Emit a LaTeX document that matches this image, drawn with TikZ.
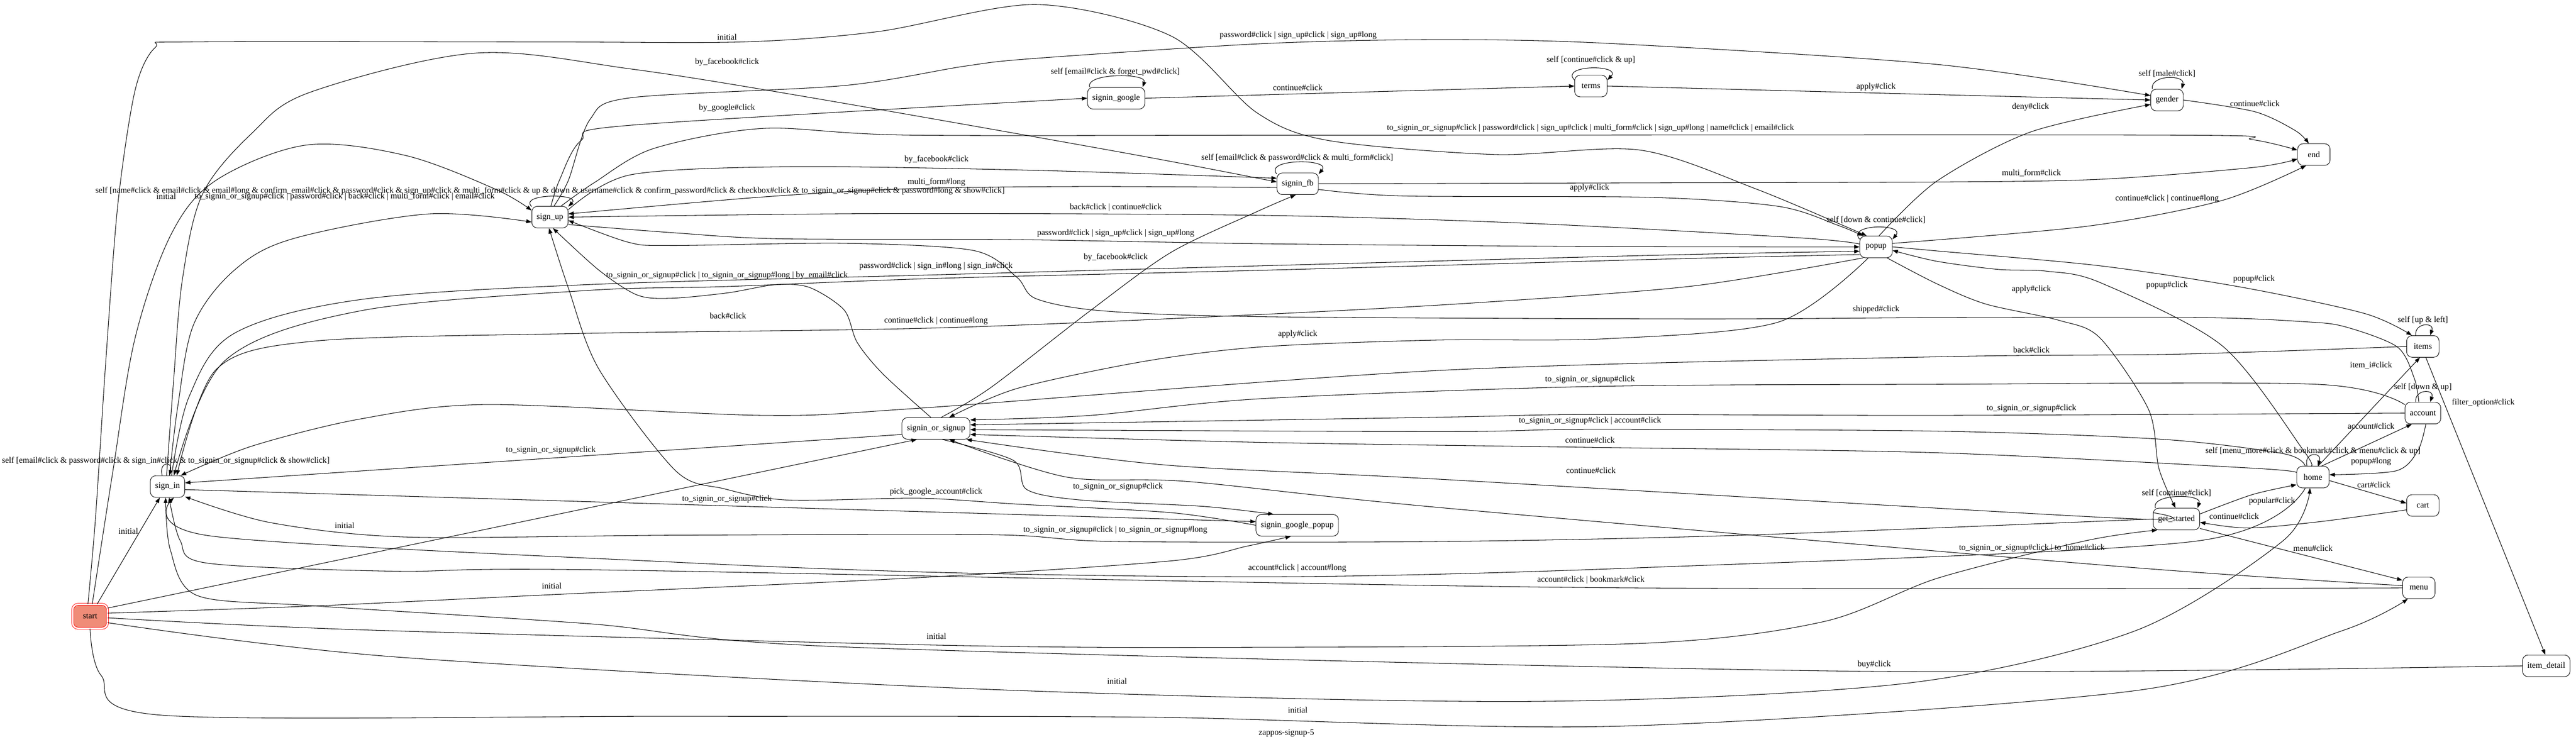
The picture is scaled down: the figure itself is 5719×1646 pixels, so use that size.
\documentclass[tikz,border=0pt]{standalone}
\usepackage{fontspec}
\setmainfont{Liberation Serif}
\usetikzlibrary{arrows.meta}
\definecolor{salmonfill}{HTML}{F08C78}

\begin{document}
\begin{tikzpicture}[x=0.75pt,y=-0.75pt,
	state/.style={draw, line width=0.8pt, rounded corners=9pt, minimum width=54pt, minimum height=36pt, inner xsep=8pt, font=\fontsize{14pt}{16pt}\selectfont},
	trans/.style={-{Triangle[length=9pt,width=6.5pt]}, line width=0.9pt},
	lab/.style={inner sep=0pt, font=\fontsize{14pt}{16pt}\selectfont}]
	\useasboundingbox (0,0) rectangle (5719,1646);

	\node[state, fill=salmonfill, draw=red, double=white, double distance=2.5pt, minimum width=58pt, minimum height=40pt] (start) at (200,1368) {start};
	\node[state] (sign_in) at (372,1080) {sign\_in};
	\node[state] (sign_up) at (1221,482) {sign\_up};
	\node[state] (signin_or_signup) at (2078,951) {signin\_or\_signup};
	\node[state] (signin_google) at (2478,218) {signin\_google};
	\node[state] (signin_google_popup) at (2880,1166) {signin\_google\_popup};
	\node[state] (signin_fb) at (2881,408) {signin\_fb};
	\node[state] (terms) at (3532,191) {terms};
	\node[state] (popup) at (4165,548) {popup};
	\node[state] (gender) at (4811,222) {gender};
	\node[state] (end_state) at (5137,343) {end};
	\node[state] (items) at (5379,769) {items};
	\node[state] (account) at (5379,917) {account};
	\node[state] (home) at (5135,1059) {home};
	\node[state] (cart) at (5379,1122) {cart};
	\node[state] (get_started) at (4832,1152) {get\_started};
	\node[state] (menu) at (5370,1305) {menu};
	\node[state] (item_detail) at (5653,1478) {item\_detail};

	% edges leaving start
	\draw[trans] plot[smooth,tension=.5] coordinates {(start.100) (212,1150) (235,800) (262,450) (300,200) (345,105) (420,93) (1200,93) (1650,93) (1950,70) (2300,10) (2600,80) (2790,250) (2950,312) (3320,343) (3640,333) (3900,420) (popup.130)};
	\draw[trans] plot[smooth,tension=.55] coordinates {(start.80) (250,1050) (300,750) (380,520) (480,400) (680,322) (900,345) (1100,420) (sign_up.160)};
	\draw[trans] (start.60) -- (sign_in.235);
	\draw[trans] (start.25) -- (signin_or_signup.210);
	\draw[trans] plot[smooth,tension=.5] coordinates {(start.10) (700,1345) (1225,1320) (2044,1282) (2600,1245) (2770,1212) (signin_google_popup.240)};
	\draw[trans] plot[smooth,tension=.5] coordinates {(start.-5) (800,1398) (2079,1432) (2717,1437) (3647,1428) (4048,1380) (4303,1283) (4632,1200) (get_started.210)};
	\draw[trans] plot[smooth,tension=.5] coordinates {(start.-20) (875,1458) (2188,1530) (3392,1557) (4230,1517) (4741,1400) (5069,1200) (home.255)};
	\draw[trans] plot[smooth,tension=.5] coordinates {(start.-90) (225,1500) (365,1588) (1500,1590) (2553,1592) (3592,1612) (4741,1533) (5200,1400) (menu.225)};

	% sign_in
	\draw[trans] ([xshift=-9pt]sign_in.north) .. controls +(-6pt,24pt) and +(6pt,24pt) .. ([xshift=3pt]sign_in.north);
	\draw[trans] plot[smooth,tension=.55] coordinates {(sign_in.80) (395,900) (430,720) (520,600) (650,530) (950,475) (sign_up.195)};
	\draw[trans] plot[smooth,tension=.55] coordinates {(sign_in.95) (385,850) (405,620) (450,430) (560,295) (688,205) (1054,118) (1400,153) (1802,217) (2500,340) (signin_fb.175)};
	\draw[trans] (sign_in.-10) -- (signin_google_popup.175);
	\draw[trans] (signin_or_signup.190) -- (sign_in.12);
	\draw[trans] plot[smooth,tension=.55] coordinates {(sign_in.70) (420,880) (520,740) (800,665) (1300,632) (2078,610) (2800,590) (3700,566) (popup.195)};
	\draw[trans] plot[smooth,tension=.55] coordinates {(popup.205) (3700,575) (2800,600) (2078,618) (1614,636) (1300,645) (800,690) (500,800) (sign_in.60)};
	\draw[trans] plot[smooth,tension=.5] coordinates {(popup.220) (3757,635) (3278,672) (2800,698) (2078,728) (1300,740) (700,757) (480,820) (sign_in.50)};

	% sign_up
	\draw[trans] (sign_up.150) .. controls +(-22pt,22pt) and +(22pt,22pt) .. (sign_up.30);
	\draw[trans] plot[smooth,tension=.5] coordinates {(sign_up.70) (1262,400) (1310,265) (1400,217) (1873,190) (2141,147) (2293,130) (2800,97) (3183,88) (3565,96) (4300,143) (gender.165)};
	\draw[trans] plot[smooth,tension=.5] coordinates {(sign_up.85) (1242,400) (1290,312) (1400,278) (signin_google.west)};
	\draw[trans] plot[smooth,tension=.5] coordinates {(sign_up.45) (1320,405) (1450,330) (1695,285) (2025,300) (3000,300) (4834,300) (5000,310) (end_state.165)};
	\draw[trans] plot[smooth,tension=.5] coordinates {(sign_up.22) (1400,388) (1757,370) (2293,378) (signin_fb.165)};
	\draw[trans] plot[smooth,tension=.5] coordinates {(signin_fb.190) (2400,414) (2017,419) (1683,438) (sign_up.10)};
	\draw[trans] plot[smooth,tension=.5] coordinates {(popup.170) (3996,528) (3400,496) (2800,478) (1970,474) (sign_up.0)};
	\draw[trans] plot[smooth,tension=.5] coordinates {(sign_up.-22) (1500,517) (1730,530) (2257,532) (2800,541) (3500,547) (popup.180)};
	\draw[trans] plot[smooth,tension=.5] coordinates {(signin_or_signup.65) (2200,860) (2420,690) (2600,560) (2790,470) (signin_fb.-100)};
	\draw[trans] plot[smooth,tension=.5] coordinates {(signin_or_signup.115) (1960,830) (1903,760) (1874,688) (1797,638) (1721,632) (1616,650) (1491,662) (1415,655) (1330,600) (sign_up.-75)};
	\draw[trans] plot[smooth,tension=.5] coordinates {(account.110) (5360,840) (5322,770) (5205,725) (5114,714) (4888,705) (4300,705) (3757,708) (2800,703) (2448,690) (2300,663) (2257,615) (2161,556) (1874,540) (1491,545) (1396,538) (sign_up.-10)};
	\draw[trans] plot[smooth,tension=.5] coordinates {(signin_google_popup.west) (2600,1138) (2259,1119) (2042,1106) (1749,1110) (1608,1085) (1500,1045) (1330,820) (1262,640) (sign_up.-95)};

	% top row
	\draw[trans] ([xshift=4pt]signin_google.north west) .. controls +(-8pt,24pt) and +(8pt,24pt) .. ([xshift=-4pt]signin_google.north east);
	\draw[trans] (signin_google.east) -- (terms.west);
	\draw[trans] (terms.160) .. controls +(-25pt,26pt) and +(25pt,26pt) .. (terms.20);
	\draw[trans] plot[smooth,tension=.5] coordinates {(terms.east) (4300,210) (gender.west)};
	\draw[trans] ([xshift=3pt]gender.north west) .. controls +(-4pt,24pt) and +(6pt,24pt) .. ([xshift=-3pt]gender.north east);
	\draw[trans] plot[smooth,tension=.5] coordinates {(gender.east) (5006,248) (5096,290) (end_state.115)};
	\draw[trans] plot[smooth,tension=.5] coordinates {(popup.75) (4300,402) (4508,293) (gender.195)};
	\draw[trans] (signin_fb.155) .. controls +(-22pt,26pt) and +(22pt,26pt) .. (signin_fb.25);
	\draw[trans] plot[smooth,tension=.5] coordinates {(signin_fb.east) (3600,406) (4300,404) (4662,398) (5000,372) (end_state.195)};
	\draw[trans] plot[smooth,tension=.5] coordinates {(signin_fb.-15) (3116,435) (3661,438) (3948,458) (4080,500) (popup.140)};

	% popup
	\draw[trans] (popup.155) .. controls +(-22pt,26pt) and +(22pt,26pt) .. (popup.25);
	\draw[trans] plot[smooth,tension=.5] coordinates {(popup.12) (4635,502) (4933,445) (end_state.235)};
	\draw[trans] plot[smooth,tension=.5] coordinates {(popup.0) (4300,557) (4662,590) (4979,638) (5250,696) (items.135)};
	\draw[trans] plot[smooth,tension=.5] coordinates {(home.100) (5114,1000) (4934,768) (4662,627) (4544,602) (4436,598) (4300,580) (popup.-12)};
	\draw[trans] plot[smooth,tension=.5] coordinates {(popup.-45) (4300,630) (4409,675) (4571,711) (4662,750) (4770,909) (4793,1040) (get_started.95)};
	\draw[trans] plot[smooth,tension=.5] coordinates {(popup.235) (3948,715) (3565,752) (3183,755) (2800,770) (2541,802) (2259,862) (signin_or_signup.40)};

	% right column
	\draw[trans] ([xshift=-12pt]items.north) .. controls +(-2pt,22pt) and +(8pt,22pt) .. ([xshift=12pt]items.north);
	\draw[trans] (home.65) -- (items.255);
	\draw[trans] (items.-75) -- (item_detail.95);
	\draw[trans] ([xshift=-12pt]account.north) .. controls +(-2pt,22pt) and +(8pt,22pt) .. ([xshift=12pt]account.north);
	\draw[trans] plot[smooth,tension=.5] coordinates {(account.155) (5142,853) (4300,853) (3530,858) (2800,885) (2422,922) (signin_or_signup.14)};
	\draw[trans] plot[smooth,tension=.5] coordinates {(account.west) (4300,922) (3530,920) (3200,926) (signin_or_signup.6)};
	\draw[trans] (home.52) -- (account.225);
	\draw[trans] ([xshift=-10pt]home.north) .. controls +(-6pt,24pt) and +(8pt,24pt) .. ([xshift=8pt]home.north);
	\draw[trans] plot[smooth,tension=.5] coordinates {(account.-75) (5368,1000) (5320,1045) (home.8)};
	\draw[trans] (home.-12) -- (cart.172);
	\draw[trans] ([xshift=4pt]get_started.north west) .. controls +(-8pt,24pt) and +(8pt,24pt) .. ([xshift=-4pt]get_started.north east);
	\draw[trans] plot[smooth,tension=.5] coordinates {(get_started.12) (5000,1098) (home.205)};
	\draw[trans] plot[smooth,tension=.5] coordinates {(cart.195) (5150,1158) (4990,1172) (get_started.-8)};
	\draw[trans] (get_started.-22) -- (menu.155);

	% back to signin_or_signup
	\draw[trans] plot[smooth,tension=.5] coordinates {(home.125) (5069,1007) (4798,975) (4300,957) (3530,953) (3200,958) (signin_or_signup.-2)};
	\draw[trans] plot[smooth,tension=.5] coordinates {(home.165) (4997,1039) (4300,1005) (3530,993) (2800,982) (signin_or_signup.-10)};
	\draw[trans] plot[smooth,tension=.5] coordinates {(get_started.165) (4700,1150) (3200,1064) (2585,1032) (signin_or_signup.-20)};
	\draw[trans] plot[smooth,tension=.5] coordinates {(menu.172) (4700,1257) (3200,1127) (2639,1069) (2368,1059) (signin_or_signup.-40)};
	\draw[trans] plot[smooth,tension=.5] coordinates {(signin_or_signup.-60) (2250,1022) (2280,1087) (2400,1110) (2671,1124) (signin_google_popup.155)};

	% back to sign_in
	\draw[trans] plot[smooth,tension=.5] coordinates {(items.west) (4843,786) (4300,792) (3200,822) (2042,906) (1695,922) (1081,898) (800,930) (560,990) (sign_in.40)};
	\draw[trans] plot[smooth,tension=.5] coordinates {(item_detail.west) (4121,1490) (1897,1437) (1313,1385) (700,1345) (438,1322) (378,1220) (sign_in.-100)};
	\draw[trans] plot[smooth,tension=.5] coordinates {(menu.west) (3501,1304) (1331,1265) (876,1268) (460,1250) (400,1200) (sign_in.-82)};
	\draw[trans] plot[smooth,tension=.5] coordinates {(home.235) (4869,1202) (3647,1260) (2880,1280) (2140,1272) (1500,1248) (470,1190) (sign_in.-60)};
	\draw[trans] plot[smooth,tension=.5] coordinates {(get_started.west) (3870,1188) (3200,1202) (2476,1202) (2205,1187) (1500,1188) (900,1192) (600,1160) (sign_in.-30)};

	% labels
	\node[lab] (l_init1) at (1614,82) {initial};
	\node[lab] (l_pwsu1) at (2882,79) {password\#click | sign\_up\#click | sign\_up\#long};
	\node[lab] (l_fb1) at (1614,138) {by\_facebook\#click};
	\node[lab] (l_sgself) at (2476,160) {self [email\#click \& forget\_pwd\#click]};
	\node[lab] (l_termsself) at (3532,133) {self [continue\#click \& up]};
	\node[lab] (l_genderself) at (4811,163) {self [male\#click]};
	\node[lab] (l_cont1) at (2881,194) {continue\#click};
	\node[lab] (l_apply1) at (4165,193) {apply\#click};
	\node[lab] (l_cont2) at (5006,230) {continue\#click};
	\node[lab] (l_deny) at (4508,238) {deny\#click};
	\node[lab] (l_google) at (1614,240) {by\_google\#click};
	\node[lab] (l_toend) at (3531,284) {to\_signin\_or\_signup\#click | password\#click | sign\_up\#click | multi\_form\#click | sign\_up\#long | name\#click | email\#click};
	\node[lab] (l_fbself) at (2880,350) {self [email\#click \& password\#click \& multi\_form\#click]};
	\node[lab] (l_fb2) at (2079,354) {by\_facebook\#click};
	\node[lab] (l_mfl) at (2079,404) {multi\_form\#long};
	\node[lab] (l_mfc) at (4510,384) {multi\_form\#click};
	\node[lab] (l_apply2) at (3529,417) {apply\#click};
	\node[lab] (l_suself) at (1221,424) {self [name\#click \& email\#click \& email\#long \& confirm\_email\#click \& password\#click \& sign\_up\#click \& multi\_form\#click \& up \& down \& username\#click \& confirm\_password\#click \& checkbox\#click \& to\_signin\_or\_signup\#click \& password\#long \& show\#click]};
	\node[lab] (l_init2) at (369,436) {initial};
	\node[lab] (l_tosu) at (765,436) {to\_signin\_or\_signup\#click | password\#click | back\#click | multi\_form\#click | email\#click};
	\node[lab] (l_contlong1) at (4811,441) {continue\#click | continue\#long};
	\node[lab] (l_backcont) at (2477,461) {back\#click | continue\#click};
	\node[lab] (l_popself) at (4165,488) {self [down \& continue\#click]};
	\node[lab] (l_pwsu2) at (2477,518) {password\#click | sign\_up\#click | sign\_up\#long};
	\node[lab] (l_fb3) at (2477,571) {by\_facebook\#click};
	\node[lab] (l_pwsi) at (2078,591) {password\#click | sign\_in\#long | sign\_in\#click};
	\node[lab] (l_email) at (1614,611) {to\_signin\_or\_signup\#click | to\_signin\_or\_signup\#long | by\_email\#click};
	\node[lab] (l_pop1) at (5004,620) {popup\#click};
	\node[lab] (l_pop2) at (4811,633) {popup\#click};
	\node[lab] (l_apply3) at (4510,642) {apply\#click};
	\node[lab] (l_ship) at (4165,687) {shipped\#click};
	\node[lab] (l_back1) at (1616,701) {back\#click};
	\node[lab] (l_itemsself) at (5379,711) {self [up \& left]};
	\node[lab] (l_contlong2) at (2078,712) {continue\#click | continue\#long};
	\node[lab] (l_apply4) at (2881,742) {apply\#click};
	\node[lab] (l_back2) at (4510,776) {back\#click};
	\node[lab] (l_item) at (5264,811) {item\_i\#click};
	\node[lab] (l_tos1) at (3530,842) {to\_signin\_or\_signup\#click};
	\node[lab] (l_accself) at (5379,859) {self [down \& up]};
	\node[lab] (l_filter) at (5513,894) {filter\_option\#click};
	\node[lab] (l_tos2) at (4510,907) {to\_signin\_or\_signup\#click};
	\node[lab] (l_tosacc) at (3530,934) {to\_signin\_or\_signup\#click | account\#click};
	\node[lab] (l_acc) at (5264,946) {account\#click};
	\node[lab] (l_cont3) at (3530,977) {continue\#click};
	\node[lab] (l_tos3) at (1223,999) {to\_signin\_or\_signup\#click};
	\node[lab] (l_homeself) at (5135,1001) {self [menu\_more\#click \& bookmark\#click \& menu\#click \& up]};
	\node[lab] (l_siself) at (368,1023) {self [email\#click \& password\#click \& sign\_in\#click \& to\_signin\_or\_signup\#click \& show\#click]};
	\node[lab] (l_poplong) at (5264,1024) {popup\#long};
	\node[lab] (l_cont4) at (3532,1044) {continue\#click};
	\node[lab] (l_cart) at (5270,1076) {cart\#click};
	\node[lab] (l_tos4) at (2482,1080) {to\_signin\_or\_signup\#click};
	\node[lab] (l_pick) at (2078,1092) {pick\_google\_account\#click};
	\node[lab] (l_gsself) at (4832,1094) {self [continue\#click]};
	\node[lab] (l_tos5) at (1614,1108) {to\_signin\_or\_signup\#click};
	\node[lab] (l_popular) at (5044,1112) {popular\#click};
	\node[lab] (l_cont5) at (4960,1146) {continue\#click};
	\node[lab] (l_init3) at (765,1167) {initial};
	\node[lab] (l_tostol) at (2476,1176) {to\_signin\_or\_signup\#click | to\_signin\_or\_signup\#long};
	\node[lab] (l_init4) at (285,1179) {initial};
	\node[lab] (l_tohome) at (4511,1216) {to\_signin\_or\_signup\#click | to\_home\#click};
	\node[lab] (l_menu) at (5135,1217) {menu\#click};
	\node[lab] (l_acclong) at (2880,1261) {account\#click | account\#long};
	\node[lab] (l_bookmark) at (3532,1287) {account\#click | bookmark\#click};
	\node[lab] (l_init5) at (1225,1300) {initial};
	\node[lab] (l_init6) at (2079,1412) {initial};
	\node[lab] (l_buy) at (4161,1475) {buy\#click};
	\node[lab] (l_init7) at (2480,1512) {initial};
	\node[lab] (l_init8) at (2881,1576) {initial};
	\node[lab] (l_title) at (2856,1627) {zappos-signup-5};
\end{tikzpicture}
\end{document}
